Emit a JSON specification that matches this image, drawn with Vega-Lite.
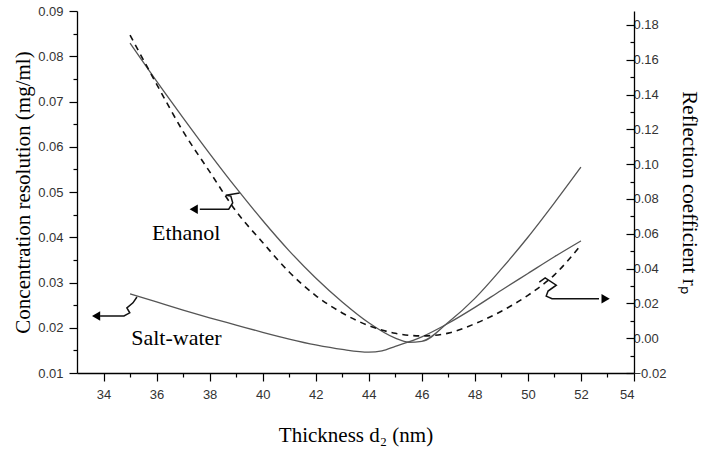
{
  "$schema": "https://vega.github.io/schema/vega-lite/v6.json",
  "width": 557,
  "height": 362,
  "autosize": {"type": "none"},
  "padding": {"left": 77, "top": 11, "right": 71, "bottom": 76},
  "background": "white",
  "config": {
    "view": {"stroke": null},
    "axis": {
      "domainColor": "#000000",
      "domainWidth": 1.3,
      "tickColor": "#000000",
      "tickWidth": 1.2,
      "grid": false,
      "labelFont": "Liberation Sans",
      "labelFontSize": 13,
      "labelColor": "#333333",
      "titleFont": "Liberation Serif",
      "titleFontSize": 21,
      "titleFontWeight": "normal",
      "titleColor": "#000000"
    }
  },
  "datasets": {
    "resolution": [
      {"series": "Ethanol", "thickness": 35, "value": 0.0829},
      {"series": "Ethanol", "thickness": 36, "value": 0.0745},
      {"series": "Ethanol", "thickness": 37, "value": 0.0664},
      {"series": "Ethanol", "thickness": 38, "value": 0.0585},
      {"series": "Ethanol", "thickness": 39, "value": 0.0509},
      {"series": "Ethanol", "thickness": 40, "value": 0.0437},
      {"series": "Ethanol", "thickness": 41, "value": 0.037},
      {"series": "Ethanol", "thickness": 42, "value": 0.031},
      {"series": "Ethanol", "thickness": 43, "value": 0.0257},
      {"series": "Ethanol", "thickness": 44, "value": 0.0211},
      {"series": "Ethanol", "thickness": 45, "value": 0.0177},
      {"series": "Ethanol", "thickness": 45.5, "value": 0.0168},
      {"series": "Ethanol", "thickness": 46, "value": 0.017},
      {"series": "Ethanol", "thickness": 47, "value": 0.0212},
      {"series": "Ethanol", "thickness": 48, "value": 0.0265},
      {"series": "Ethanol", "thickness": 49, "value": 0.033},
      {"series": "Ethanol", "thickness": 50, "value": 0.04},
      {"series": "Ethanol", "thickness": 51, "value": 0.0476},
      {"series": "Ethanol", "thickness": 52, "value": 0.0555},
      {"series": "Salt-water", "thickness": 35, "value": 0.0275},
      {"series": "Salt-water", "thickness": 36, "value": 0.0257},
      {"series": "Salt-water", "thickness": 37, "value": 0.0239},
      {"series": "Salt-water", "thickness": 38, "value": 0.0222},
      {"series": "Salt-water", "thickness": 39, "value": 0.0206},
      {"series": "Salt-water", "thickness": 40, "value": 0.019},
      {"series": "Salt-water", "thickness": 41, "value": 0.0175},
      {"series": "Salt-water", "thickness": 42, "value": 0.0162},
      {"series": "Salt-water", "thickness": 43, "value": 0.0152},
      {"series": "Salt-water", "thickness": 44, "value": 0.0146},
      {"series": "Salt-water", "thickness": 44.5, "value": 0.0149},
      {"series": "Salt-water", "thickness": 45, "value": 0.0159},
      {"series": "Salt-water", "thickness": 46, "value": 0.018},
      {"series": "Salt-water", "thickness": 47, "value": 0.021},
      {"series": "Salt-water", "thickness": 48, "value": 0.0245},
      {"series": "Salt-water", "thickness": 49, "value": 0.0283},
      {"series": "Salt-water", "thickness": 50, "value": 0.032},
      {"series": "Salt-water", "thickness": 51, "value": 0.0357},
      {"series": "Salt-water", "thickness": 52, "value": 0.0392}
    ],
    "reflection": [
      {"thickness": 35, "rp": 0.1742},
      {"thickness": 36, "rp": 0.146},
      {"thickness": 37, "rp": 0.1188},
      {"thickness": 38, "rp": 0.0957},
      {"thickness": 39, "rp": 0.0729},
      {"thickness": 40, "rp": 0.055},
      {"thickness": 41, "rp": 0.038},
      {"thickness": 42, "rp": 0.0245},
      {"thickness": 43, "rp": 0.0145},
      {"thickness": 44, "rp": 0.0072},
      {"thickness": 45, "rp": 0.0028},
      {"thickness": 46, "rp": 0.0013},
      {"thickness": 47, "rp": 0.0029},
      {"thickness": 48, "rp": 0.0083},
      {"thickness": 49, "rp": 0.0155},
      {"thickness": 50, "rp": 0.0246},
      {"thickness": 51, "rp": 0.0364},
      {"thickness": 52, "rp": 0.0535}
    ],
    "pointers": [
      {"path": "ethanol", "step": 1, "thickness": 39.13, "value": 0.0498},
      {"path": "ethanol", "step": 2, "thickness": 38.61, "value": 0.0493},
      {"path": "ethanol", "step": 3, "thickness": 38.8, "value": 0.0491},
      {"path": "ethanol", "step": 4, "thickness": 38.87, "value": 0.0476},
      {"path": "ethanol", "step": 5, "thickness": 38.72, "value": 0.0462},
      {"path": "ethanol", "step": 6, "thickness": 37.63, "value": 0.0462},
      {"path": "salt", "step": 1, "thickness": 35.26, "value": 0.0268},
      {"path": "salt", "step": 2, "thickness": 35.11, "value": 0.0255},
      {"path": "salt", "step": 3, "thickness": 34.88, "value": 0.0244},
      {"path": "salt", "step": 4, "thickness": 34.99, "value": 0.0233},
      {"path": "salt", "step": 5, "thickness": 34.77, "value": 0.0226},
      {"path": "salt", "step": 6, "thickness": 33.87, "value": 0.0226},
      {"path": "rp", "step": 1, "thickness": 50.43, "value": 0.0301},
      {"path": "rp", "step": 2, "thickness": 50.65, "value": 0.031},
      {"path": "rp", "step": 3, "thickness": 51.07, "value": 0.0294},
      {"path": "rp", "step": 4, "thickness": 50.76, "value": 0.0281},
      {"path": "rp", "step": 5, "thickness": 50.69, "value": 0.027},
      {"path": "rp", "step": 6, "thickness": 50.91, "value": 0.0264},
      {"path": "rp", "step": 7, "thickness": 52.68, "value": 0.0264}
    ],
    "heads": [
      {"dir": "left", "thickness": 37.4, "value": 0.0462},
      {"dir": "left", "thickness": 33.72, "value": 0.0226},
      {"dir": "right", "thickness": 52.93, "value": 0.0264}
    ],
    "labels": [
      {"text": "Ethanol", "thickness": 37.12, "value": 0.0409},
      {"text": "Salt-water", "thickness": 36.75, "value": 0.0178}
    ]
  },
  "encoding": {
    "x": {
      "field": "thickness",
      "type": "quantitative",
      "scale": {"domain": [33, 54], "nice": false, "zero": false},
      "axis": {
        "title": "Thickness d₂ (nm)",
        "values": [34, 35, 36, 37, 38, 39, 40, 41, 42, 43, 44, 45, 46, 47, 48, 49, 50, 51, 52, 53, 54],
        "labelExpr": "datum.value % 2 === 0 ? datum.label : ''",
        "tickSize": {"condition": {"test": "datum.value % 2 === 0", "value": 8}, "value": 4},
        "labelPadding": 7,
        "titlePadding": 23
      }
    }
  },
  "layer": [
    {
      "encoding": {
        "y": {
          "field": "value",
          "type": "quantitative",
          "scale": {"domain": [0.01, 0.09], "nice": false, "zero": false},
          "axis": {
            "orient": "left",
            "title": "Concentration resolution (mg/ml)",
            "values": [0.01, 0.015, 0.02, 0.025, 0.03, 0.035, 0.04, 0.045, 0.05, 0.055, 0.06, 0.065, 0.07, 0.075, 0.08, 0.085, 0.09],
            "format": ".2f",
            "labelExpr": "round(datum.value * 1000) % 10 === 0 ? datum.label : ''",
            "tickSize": {"condition": {"test": "round(datum.value * 1000) % 10 === 0", "value": 8}, "value": 4},
            "labelPadding": 6,
            "titlePadding": 4
          }
        }
      },
      "layer": [
        {
          "data": {"name": "resolution"},
          "mark": {"type": "line", "interpolate": "monotone", "color": "#555555", "strokeWidth": 1.3},
          "encoding": {"detail": {"field": "series"}}
        },
        {
          "data": {"name": "pointers"},
          "mark": {"type": "line", "color": "#111111", "strokeWidth": 1.5},
          "encoding": {
            "detail": {"field": "path"},
            "order": {"field": "step", "type": "quantitative"}
          }
        },
        {
          "data": {"name": "heads"},
          "mark": {"type": "point", "filled": true, "color": "#000000", "opacity": 1, "size": 90},
          "encoding": {
            "shape": {
              "field": "dir",
              "type": "nominal",
              "scale": {"domain": ["left", "right"], "range": ["triangle-left", "triangle-right"]},
              "legend": null
            }
          }
        },
        {
          "data": {"name": "labels"},
          "mark": {"type": "text", "font": "Liberation Serif", "fontSize": 22, "color": "#000000", "align": "center", "baseline": "middle"},
          "encoding": {"text": {"field": "text"}}
        }
      ]
    },
    {
      "data": {"name": "reflection"},
      "mark": {"type": "line", "interpolate": "monotone", "color": "#111111", "strokeWidth": 1.6, "strokeDash": [6, 5]},
      "encoding": {
        "y": {
          "field": "rp",
          "type": "quantitative",
          "scale": {"domain": [-0.02, 0.188], "nice": false, "zero": false},
          "axis": {
            "orient": "right",
            "title": "Reflection coefficient rₚ",
            "values": [-0.02, -0.01, 0, 0.01, 0.02, 0.03, 0.04, 0.05, 0.06, 0.07, 0.08, 0.09, 0.1, 0.11, 0.12, 0.13, 0.14, 0.15, 0.16, 0.17, 0.18],
            "format": ".2f",
            "labelExpr": "round(datum.value * 100) % 2 === 0 ? datum.label : ''",
            "tickSize": {"condition": {"test": "round(datum.value * 100) % 2 === 0", "value": -8}, "value": -4},
            "labelPadding": 7,
            "titlePadding": 13
          }
        }
      }
    }
  ],
  "resolve": {"scale": {"y": "independent"}, "axis": {"y": "independent"}}
}
